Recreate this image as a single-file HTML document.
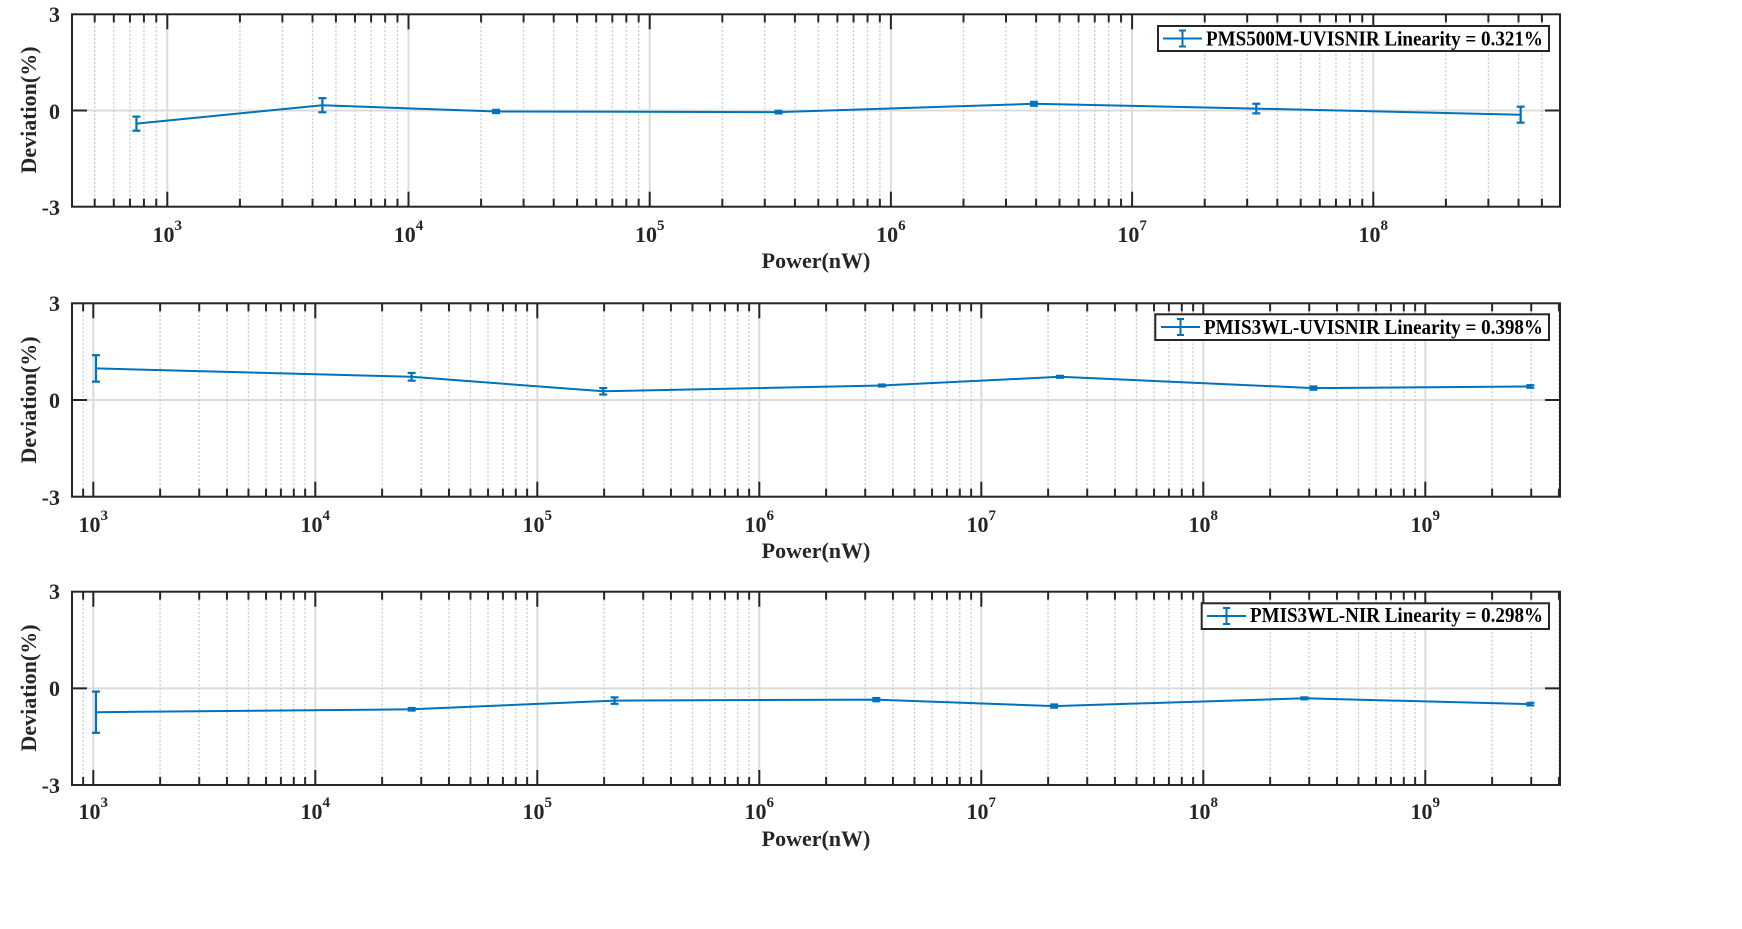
<!DOCTYPE html>
<html><head><meta charset="utf-8"><style>
html,body{margin:0;padding:0;background:#fff;}
svg{display:block;font-family:"Liberation Serif",serif;font-weight:bold;}
</style></head><body>
<svg id="s" width="1742" height="929" viewBox="0 0 1742 929" xmlns="http://www.w3.org/2000/svg">
<g id="grid"></g>
<g fill="#262626" font-size="22">
<!-- plot 1 -->
<text x="60" y="22" text-anchor="end">3</text>
<text x="60" y="119" text-anchor="end">0</text>
<text x="60" y="215" text-anchor="end">-3</text>
<text x="167.3" y="242" text-anchor="middle">10<tspan dy="-12" font-size="15">3</tspan></text>
<text x="408.5" y="242" text-anchor="middle">10<tspan dy="-12" font-size="15">4</tspan></text>
<text x="649.7" y="242" text-anchor="middle">10<tspan dy="-12" font-size="15">5</tspan></text>
<text x="890.9" y="242" text-anchor="middle">10<tspan dy="-12" font-size="15">6</tspan></text>
<text x="1132.1" y="242" text-anchor="middle">10<tspan dy="-12" font-size="15">7</tspan></text>
<text x="1373.3" y="242" text-anchor="middle">10<tspan dy="-12" font-size="15">8</tspan></text>
<text x="816" y="268" text-anchor="middle">Power(nW)</text>
<text transform="translate(36,110) rotate(-90)" text-anchor="middle">Deviation(%)</text>
<!-- plot 2 -->
<text x="60" y="311" text-anchor="end">3</text>
<text x="60" y="408" text-anchor="end">0</text>
<text x="60" y="505" text-anchor="end">-3</text>
<text x="93.3" y="532" text-anchor="middle">10<tspan dy="-12" font-size="15">3</tspan></text>
<text x="315.3" y="532" text-anchor="middle">10<tspan dy="-12" font-size="15">4</tspan></text>
<text x="537.3" y="532" text-anchor="middle">10<tspan dy="-12" font-size="15">5</tspan></text>
<text x="759.3" y="532" text-anchor="middle">10<tspan dy="-12" font-size="15">6</tspan></text>
<text x="981.3" y="532" text-anchor="middle">10<tspan dy="-12" font-size="15">7</tspan></text>
<text x="1203.3" y="532" text-anchor="middle">10<tspan dy="-12" font-size="15">8</tspan></text>
<text x="1425.3" y="532" text-anchor="middle">10<tspan dy="-12" font-size="15">9</tspan></text>
<text x="816" y="558" text-anchor="middle">Power(nW)</text>
<text transform="translate(36,400) rotate(-90)" text-anchor="middle">Deviation(%)</text>
<!-- plot 3 -->
<text x="60" y="599" text-anchor="end">3</text>
<text x="60" y="696" text-anchor="end">0</text>
<text x="60" y="793" text-anchor="end">-3</text>
<text x="93.3" y="819" text-anchor="middle">10<tspan dy="-12" font-size="15">3</tspan></text>
<text x="315.3" y="819" text-anchor="middle">10<tspan dy="-12" font-size="15">4</tspan></text>
<text x="537.3" y="819" text-anchor="middle">10<tspan dy="-12" font-size="15">5</tspan></text>
<text x="759.3" y="819" text-anchor="middle">10<tspan dy="-12" font-size="15">6</tspan></text>
<text x="981.3" y="819" text-anchor="middle">10<tspan dy="-12" font-size="15">7</tspan></text>
<text x="1203.3" y="819" text-anchor="middle">10<tspan dy="-12" font-size="15">8</tspan></text>
<text x="1425.3" y="819" text-anchor="middle">10<tspan dy="-12" font-size="15">9</tspan></text>
<text x="816" y="846" text-anchor="middle">Power(nW)</text>
<text transform="translate(36,688) rotate(-90)" text-anchor="middle">Deviation(%)</text>
</g>
<g id="data"></g>
<!-- legends -->
<g>
<rect x="1158" y="26" width="391" height="25" fill="#fff" stroke="#262626" stroke-width="2"/>
<line x1="1163" y1="38.5" x2="1202" y2="38.5" stroke="#0072BD" stroke-width="2"/>
<line x1="1182.5" y1="30.5" x2="1182.5" y2="46.5" stroke="#0072BD" stroke-width="2"/>
<line x1="1179" y1="30.5" x2="1186" y2="30.5" stroke="#0072BD" stroke-width="2"/>
<line x1="1179" y1="46.5" x2="1186" y2="46.5" stroke="#0072BD" stroke-width="2"/>
<text x="1206" y="45.5" font-size="21" fill="#000" textLength="337" lengthAdjust="spacingAndGlyphs">PMS500M-UVISNIR Linearity = 0.321%</text>

<rect x="1155.3" y="314.3" width="393.7" height="25.7" fill="#fff" stroke="#262626" stroke-width="2"/>
<line x1="1161" y1="327" x2="1200" y2="327" stroke="#0072BD" stroke-width="2"/>
<line x1="1180.5" y1="319" x2="1180.5" y2="335" stroke="#0072BD" stroke-width="2"/>
<line x1="1177" y1="319" x2="1184" y2="319" stroke="#0072BD" stroke-width="2"/>
<line x1="1177" y1="335" x2="1184" y2="335" stroke="#0072BD" stroke-width="2"/>
<text x="1204" y="334" font-size="21" fill="#000" textLength="339" lengthAdjust="spacingAndGlyphs">PMIS3WL-UVISNIR Linearity = 0.398%</text>

<rect x="1201.7" y="603.3" width="347.3" height="25.7" fill="#fff" stroke="#262626" stroke-width="2"/>
<line x1="1207" y1="616" x2="1246" y2="616" stroke="#0072BD" stroke-width="2"/>
<line x1="1226.5" y1="608" x2="1226.5" y2="624" stroke="#0072BD" stroke-width="2"/>
<line x1="1223" y1="608" x2="1230" y2="608" stroke="#0072BD" stroke-width="2"/>
<line x1="1223" y1="624" x2="1230" y2="624" stroke="#0072BD" stroke-width="2"/>
<text x="1250" y="622" font-size="21" fill="#000" textLength="293" lengthAdjust="spacingAndGlyphs">PMIS3WL-NIR Linearity = 0.298%</text>
</g>
</svg>
<script>
(function(){
var NS="http://www.w3.org/2000/svg";
var grid=document.getElementById('grid'), data=document.getElementById('data');
function el(p,t,a){var e=document.createElementNS(NS,t);for(var k in a)e.setAttribute(k,a[k]);p.appendChild(e);return e;}
var plots=[
 {top:14.3,bot:206.7,x0:167.3,dec:241.2,kmin:2,kmax:8,
  pts:[[2.872,-0.41,0.22],[3.643,0.165,0.22],[4.363,-0.03,0.05],[5.534,-0.05,0.04],[6.593,0.21,0.06],[7.515,0.06,0.15],[8.611,-0.13,0.25]]},
 {top:303.3,bot:496.7,x0:93.3,dec:222,kmin:2,kmax:9,
  pts:[[3.012,0.98,0.41],[4.434,0.72,0.12],[5.297,0.27,0.1],[6.552,0.45,0.03],[7.354,0.72,0.03],[8.496,0.37,0.05],[9.473,0.42,0.04]]},
 {top:591.7,bot:785,x0:93.3,dec:222,kmin:2,kmax:9,
  pts:[[3.012,-0.74,0.64],[4.434,-0.65,0.04],[5.348,-0.38,0.1],[6.527,-0.35,0.05],[7.328,-0.55,0.05],[8.455,-0.31,0.03],[9.473,-0.49,0.04]]}
];
var L=72,R=1560;
plots.forEach(function(p){
 var zero=(p.top+p.bot)/2, ys=(p.bot-p.top)/6;
 function X(l){return p.x0+(l-3)*p.dec;}
 function Y(v){return zero-v*ys;}
 el(grid,'line',{x1:L,y1:zero,x2:R,y2:zero,stroke:'#dcdcdc','stroke-width':2});
 for(var k=p.kmin;k<=p.kmax;k++){
  for(var m=1;m<=9;m++){
   var x=X(k+Math.log10(m));
   if(x<=L+1||x>=R-1)continue;
   if(m==1){
    el(grid,'line',{x1:x,y1:p.top,x2:x,y2:p.bot,stroke:'#dcdcdc','stroke-width':2});
    el(grid,'line',{x1:x,y1:p.top,x2:x,y2:p.top+15,stroke:'#262626','stroke-width':2});
    el(grid,'line',{x1:x,y1:p.bot,x2:x,y2:p.bot-15,stroke:'#262626','stroke-width':2});
   }else{
    el(grid,'line',{x1:x,y1:p.top,x2:x,y2:p.bot,stroke:'#c8c8c8','stroke-width':1.3,'stroke-dasharray':'2,2'});
    el(grid,'line',{x1:x,y1:p.top,x2:x,y2:p.top+8,stroke:'#262626','stroke-width':2});
    el(grid,'line',{x1:x,y1:p.bot,x2:x,y2:p.bot-8,stroke:'#262626','stroke-width':2});
   }
  }
 }
 el(grid,'line',{x1:L,y1:zero,x2:L+15,y2:zero,stroke:'#262626','stroke-width':2});
 el(grid,'line',{x1:R,y1:zero,x2:R-15,y2:zero,stroke:'#262626','stroke-width':2});
 el(grid,'rect',{x:L,y:p.top,width:R-L,height:p.bot-p.top,fill:'none',stroke:'#262626','stroke-width':2});
 var d=p.pts.map(function(q,i){return (i?'L':'M')+X(q[0]).toFixed(1)+' '+Y(q[1]).toFixed(1);}).join(' ');
 el(data,'path',{d:d,fill:'none',stroke:'#0072BD','stroke-width':2});
 p.pts.forEach(function(q){
  var x=X(q[0]),y1=Y(q[1]+q[2]),y2=Y(q[1]-q[2]);
  el(data,'line',{x1:x,y1:y1,x2:x,y2:y2,stroke:'#0072BD','stroke-width':2.2});
  el(data,'line',{x1:x-4,y1:y1,x2:x+4,y2:y1,stroke:'#0072BD','stroke-width':2.2});
  el(data,'line',{x1:x-4,y1:y2,x2:x+4,y2:y2,stroke:'#0072BD','stroke-width':2.2});
 });
});
})();
</script>
</body></html>
